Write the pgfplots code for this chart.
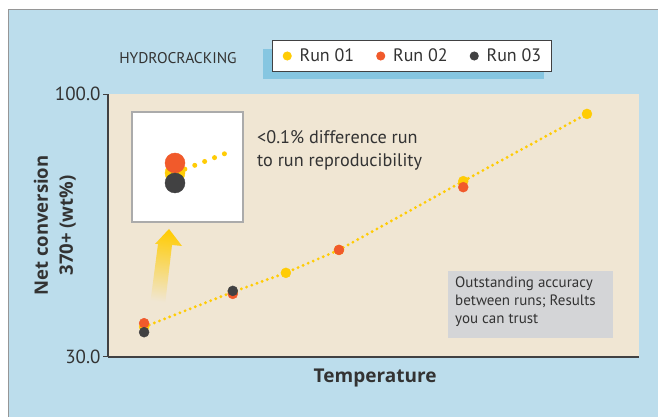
\documentclass[border=0pt]{standalone}
\usepackage{pgfplots}
\pgfplotsset{compat=1.18}
\usepackage{fontspec}
\setmainfont{PT Sans}
\newfontfamily\labfont{Open Sans}
\definecolor{bgblue}{RGB}{188,221,236}
\definecolor{shblue}{RGB}{134,198,225}
\definecolor{beige}{RGB}{240,230,211}
\definecolor{yc}{RGB}{255,204,5}
\definecolor{rc}{RGB}{241,90,43}
\definecolor{kc}{RGB}{65,65,66}
\definecolor{gbox}{RGB}{212,213,215}
\definecolor{txt}{RGB}{51,51,51}
\definecolor{frame}{RGB}{150,150,150}
\begin{document}
\begin{tikzpicture}[x=1pt,y=1pt]
\useasboundingbox (0,0) rectangle (658,417);
\fill[white] (0,0) rectangle (658,417);
\fill[bgblue] (8,-5) rectangle (670,407);
\draw[frame, line width=1pt] (8,-5) -- (8,407) -- (670,407);
% legend shadow
\fill[shblue] (263,338) rectangle (544,368);
\node[txt, anchor=center, font=\fontsize{15.5}{18}\selectfont] at (178,359) {HYDROCRACKING};
\begin{axis}[
  at={(108pt,60pt)}, anchor=south west,
  width=531pt, height=263pt, scale only axis,
  xmin=0, xmax=100, ymin=30, ymax=100,
  axis x line*=bottom, axis y line*=left,
  axis line style={line width=1.4pt, color=kc},
  axis background/.style={fill=beige},
  xtick=\empty, ytick={30,100},
  tick align=outside, major tick length=5pt,
  tick style={line width=1pt, color=kc},
  yticklabel style={/pgf/number format/fixed, /pgf/number format/fixed zerofill, /pgf/number format/precision=1, /pgf/number format/assume math mode=true, font=\fontsize{19}{22}\selectfont, color=txt, xshift=1pt},
  xlabel={Temperature},
  xlabel style={at={(axis description cs:0.503,-0.078)}, anchor=center, font=\labfont\fontsize{19}{22}\selectfont\bfseries, color=txt},
  ylabel={Net conversion\\370+ (wt\%)},
  ylabel style={at={(axis description cs:-0.1,0.5)}, anchor=center, rotate=0, align=center, font=\labfont\fontsize{18.5}{25}\selectfont\bfseries, color=txt},
  clip=false,
  legend columns=3,
  legend style={at={(axis description cs:0.5725,1.1445)}, anchor=center, draw=kc, line width=1pt, fill=white, font=\fontsize{18}{20}\selectfont, text=txt, inner xsep=10pt, inner ysep=4pt,
    nodes={inner xsep=0pt, inner ysep=4pt},
    /tikz/every odd column/.append style={column sep=8pt},
    /tikz/every even column/.append style={column sep=22pt}},
  legend image code/.code={\fill[#1] (0pt,0pt) circle (4pt);},
]
\addplot[only marks, mark=*, mark size=5pt, color=yc, mark options={draw=yc, fill=yc}] coordinates {(6.8,38.0) (23.5,47.3) (33.5,52.4) (43.5,58.5) (66.9,76.8) (90.2,94.7)};
\addlegendentry{Run 01}
\addplot[only marks, mark=*, mark size=5pt, color=rc, mark options={draw=rc, fill=rc}] coordinates {(6.8,39.0) (23.5,46.8) (43.5,58.5) (66.9,75.2)};
\addlegendentry{Run 02}
\addplot[only marks, mark=*, mark size=5pt, color=kc, mark options={draw=kc, fill=kc}] coordinates {(6.8,36.6) (23.5,47.6)};
\addlegendentry{Run 03}
\addplot[forget plot, no marks, color=yc, line width=3.2pt, line cap=round, dash pattern=on 0pt off 5.5pt] coordinates {(6.8,38.0) (23.5,47.3) (33.5,52.4) (43.5,58.5) (66.9,76.8) (90.2,94.7)};
\end{axis}
% inset
\begin{axis}[
  at={(132pt,195pt)}, anchor=south west,
  width=111pt, height=110pt, scale only axis,
  xmin=0, xmax=111, ymin=0, ymax=110,
  axis line style={line width=1.2pt, color=frame!80},
  axis background/.style={fill=white},
  xtick=\empty, ytick=\empty, clip=false,
]
\addplot[only marks, mark=*, mark size=10pt, color=yc, mark options={draw=yc, fill=yc}] coordinates {(43,49)};
\addplot[only marks, mark=*, mark size=10pt, color=rc, mark options={draw=rc, fill=rc}] coordinates {(43,59)};
\addplot[only marks, mark=*, mark size=10pt, color=kc, mark options={draw=kc, fill=kc}] coordinates {(43,39)};
\addplot[no marks, color=yc, line width=5pt, line cap=round, dash pattern=on 0pt off 10.6pt] coordinates {(43,49) (97,70)};
\end{axis}
% arrow
\shade[top color=yc, middle color=yc, bottom color=beige, shading angle=-8]
  (169,188) -- (182,171) -- (172,172) -- (165,112) -- (150,112) -- (158,173) -- (155,173) -- cycle;
% annotations
\node[txt, anchor=north west, align=left, font=\fontsize{18.2}{23}\selectfont, inner sep=0pt] at (257,287) {<0.1\% difference run\\to run reproducibility};
\fill[gbox] (448,79) rectangle (613,146);
\node[txt, anchor=north west, align=left, font=\fontsize{15}{18}\selectfont, inner sep=0pt] at (455,140) {Outstanding accuracy\\between runs; Results\\you can trust};
\end{tikzpicture}
\end{document}
